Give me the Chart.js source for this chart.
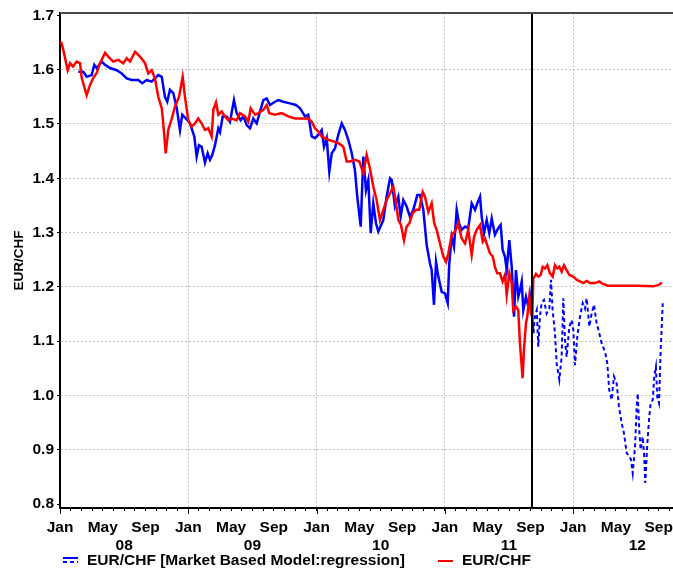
<!DOCTYPE html>
<html>
<head>
<meta charset="utf-8">
<script src="https://cdn.jsdelivr.net/npm/chart.js@4/dist/chart.umd.min.js"></script>
<style>
  html, body { margin: 0; padding: 0; background: #fff; }
  canvas { display: block; }
</style>
</head>
<body>
<canvas id="chart" width="673" height="571"></canvas>
<script>
const FONT = "'Liberation Sans', Arial, Helvetica, sans-serif";

// EUR/CHF spot rate: time in decimal years, rate in CHF per EUR
const spotTime = [
  2008.008,2008.026,2008.060,2008.078,2008.101,2008.130,2008.156,2008.169,2008.208,2008.234,
  2008.260,2008.286,2008.312,2008.351,2008.376,2008.415,2008.454,2008.493,2008.520,2008.546,
  2008.585,2008.624,2008.663,2008.688,2008.715,2008.740,2008.766,2008.793,2008.805,2008.824,
  2008.844,2008.871,2008.896,2008.928,2008.956,2008.974,2009.000,2009.026,2009.052,2009.078,
  2009.104,2009.130,2009.156,2009.182,2009.195,2009.216,2009.234,2009.260,2009.286,2009.312,
  2009.338,2009.377,2009.403,2009.442,2009.468,2009.486,2009.520,2009.546,2009.585,2009.611,
  2009.631,2009.676,2009.728,2009.779,2009.832,2009.884,2009.935,2009.962,2009.988,2010.013,
  2010.040,2010.065,2010.091,2010.130,2010.169,2010.208,2010.235,2010.260,2010.299,2010.333,
  2010.364,2010.390,2010.416,2010.442,2010.468,2010.494,2010.520,2010.546,2010.572,2010.598,
  2010.619,2010.637,2010.658,2010.681,2010.702,2010.723,2010.749,2010.775,2010.800,2010.827,
  2010.845,2010.871,2010.897,2010.917,2010.936,2010.962,2010.988,2011.009,2011.027,2011.053,
  2011.079,2011.104,2011.131,2011.157,2011.182,2011.209,2011.227,2011.248,2011.274,2011.295,
  2011.313,2011.330,2011.351,2011.373,2011.390,2011.408,2011.429,2011.450,2011.468,2011.482,
  2011.502,2011.521,2011.533,2011.554,2011.572,2011.585,2011.599,2011.606,2011.616,2011.632,
  2011.642,2011.658,2011.671,2011.681,2011.689,2011.710,2011.728,2011.747,2011.762,2011.780,
  2011.798,2011.819,2011.840,2011.858,2011.876,2011.892,2011.910,2011.928,2011.949,2011.970,
  2012.001,2012.027,2012.053,2012.079,2012.105,2012.131,2012.170,2012.203,2012.235,2012.274,
  2012.365,2012.495,2012.624,2012.671,2012.690
];
const spotRate = [
  1.652,1.636,1.599,1.612,1.606,1.615,1.612,1.585,1.553,1.572,
  1.585,1.594,1.612,1.631,1.624,1.615,1.618,1.612,1.621,1.615,
  1.633,1.624,1.612,1.593,1.599,1.584,1.550,1.529,1.501,1.446,
  1.489,1.510,1.532,1.550,1.587,1.550,1.507,1.495,1.501,1.510,
  1.501,1.489,1.492,1.477,1.526,1.540,1.517,1.523,1.514,1.507,
  1.510,1.507,1.520,1.514,1.504,1.529,1.517,1.520,1.526,1.535,
  1.520,1.517,1.520,1.514,1.510,1.510,1.510,1.504,1.492,1.486,
  1.477,1.474,1.471,1.468,1.465,1.458,1.431,1.431,1.434,1.431,
  1.409,1.443,1.418,1.385,1.360,1.323,1.342,1.360,1.372,1.385,
  1.354,1.323,1.314,1.286,1.311,1.317,1.336,1.342,1.342,1.375,
  1.366,1.338,1.354,1.317,1.305,1.280,1.256,1.246,1.262,1.296,
  1.302,1.317,1.289,1.280,1.305,1.259,1.292,1.305,1.314,1.283,
  1.289,1.277,1.262,1.256,1.237,1.225,1.225,1.210,1.222,1.185,
  1.225,1.207,1.157,1.164,1.157,1.096,1.053,1.032,1.084,1.133,
  1.145,1.182,1.151,1.145,1.215,1.224,1.219,1.222,1.237,1.234,
  1.240,1.225,1.219,1.240,1.234,1.237,1.228,1.240,1.231,1.222,
  1.219,1.213,1.210,1.207,1.211,1.207,1.207,1.210,1.205,1.202,
  1.202,1.202,1.201,1.204,1.208
];

// Market based regression model for EUR/CHF
const modelTime = [
  2008.143,2008.182,2008.208,2008.247,2008.267,2008.286,2008.325,2008.351,2008.390,2008.442,
  2008.481,2008.520,2008.559,2008.610,2008.641,2008.676,2008.715,2008.740,2008.766,2008.793,
  2008.818,2008.836,2008.857,2008.883,2008.910,2008.935,2008.953,2008.982,2009.013,2009.047,
  2009.065,2009.083,2009.104,2009.130,2009.151,2009.169,2009.187,2009.208,2009.234,2009.247,
  2009.268,2009.299,2009.325,2009.356,2009.377,2009.408,2009.429,2009.455,2009.481,2009.507,
  2009.533,2009.559,2009.585,2009.611,2009.637,2009.676,2009.701,2009.740,2009.793,2009.839,
  2009.871,2009.910,2009.935,2009.962,2009.988,2010.013,2010.040,2010.058,2010.079,2010.099,
  2010.118,2010.143,2010.169,2010.196,2010.221,2010.247,2010.274,2010.299,2010.317,2010.344,
  2010.364,2010.385,2010.403,2010.422,2010.442,2010.463,2010.481,2010.520,2010.546,2010.572,
  2010.585,2010.611,2010.637,2010.655,2010.676,2010.702,2010.728,2010.754,2010.785,2010.806,
  2010.832,2010.858,2010.884,2010.897,2010.915,2010.931,2010.949,2010.975,2011.001,2011.022,
  2011.034,2011.053,2011.071,2011.092,2011.110,2011.131,2011.157,2011.182,2011.209,2011.235,
  2011.253,2011.274,2011.287,2011.305,2011.326,2011.346,2011.365,2011.390,2011.416,2011.435,
  2011.450,2011.468,2011.482,2011.502,2011.521,2011.539,2011.554,2011.572,2011.585,2011.599,
  2011.611,2011.632,2011.650,2011.663,2011.677,2011.689,2011.702,2011.716,2011.728,2011.741,
  2011.754,2011.772,2011.793,2011.814,2011.827,2011.840,2011.858,2011.871,2011.892,2011.910,
  2011.923,2011.936,2011.949,2011.970,2011.988,2012.001,2012.014,2012.032,2012.053,2012.074,
  2012.092,2012.105,2012.126,2012.144,2012.162,2012.183,2012.203,2012.222,2012.248,2012.266,
  2012.281,2012.300,2012.318,2012.339,2012.357,2012.378,2012.396,2012.417,2012.437,2012.450,
  2012.464,2012.482,2012.495,2012.503,2012.515,2012.526,2012.542,2012.552,2012.562,2012.578,
  2012.593,2012.604,2012.620,2012.632,2012.645,2012.655,2012.669,2012.682,2012.698
];
const modelRate = [
  1.596,1.596,1.587,1.590,1.609,1.603,1.615,1.609,1.603,1.599,
  1.593,1.584,1.581,1.581,1.575,1.581,1.578,1.584,1.590,1.587,
  1.550,1.541,1.563,1.557,1.529,1.489,1.517,1.510,1.501,1.477,
  1.440,1.461,1.458,1.429,1.446,1.434,1.443,1.461,1.492,1.485,
  1.514,1.514,1.504,1.544,1.520,1.507,1.514,1.498,1.492,1.510,
  1.501,1.523,1.544,1.547,1.535,1.541,1.544,1.541,1.538,1.535,
  1.529,1.514,1.517,1.477,1.474,1.480,1.489,1.458,1.474,1.412,
  1.446,1.455,1.480,1.501,1.489,1.471,1.446,1.415,1.366,1.311,
  1.440,1.378,1.397,1.299,1.354,1.317,1.302,1.323,1.366,1.400,
  1.397,1.348,1.366,1.329,1.360,1.348,1.329,1.342,1.369,1.369,
  1.342,1.277,1.243,1.231,1.167,1.246,1.219,1.191,1.188,1.170,
  1.243,1.292,1.274,1.342,1.317,1.305,1.311,1.308,1.354,1.342,
  1.354,1.366,1.329,1.299,1.323,1.299,1.326,1.296,1.308,1.314,
  1.268,1.256,1.231,1.286,1.237,1.145,1.231,1.182,1.194,1.210,
  1.157,1.182,1.164,1.185,1.157,1.115,1.145,1.157,1.090,1.145,
  1.170,1.176,1.151,1.160,1.213,1.157,1.115,1.059,1.029,1.071,
  1.179,1.102,1.071,1.127,1.139,1.121,1.056,1.108,1.145,1.170,
  1.160,1.179,1.127,1.151,1.167,1.133,1.115,1.096,1.081,1.059,
  1.010,0.992,1.035,1.022,0.979,0.949,0.930,0.894,0.888,0.882,
  0.857,0.906,0.979,1.004,0.936,0.900,0.924,0.894,0.839,0.912,
  0.961,0.986,0.992,1.035,1.053,0.998,0.986,1.084,1.170
];

// Axis ticks and labels
const yTickValues = [0.8, 0.9, 1.0, 1.1, 1.2, 1.3, 1.4, 1.5, 1.6, 1.7];
const monthNames = ['Jan','Feb','Mar','Apr','May','Jun','Jul','Aug','Sep','Oct','Nov','Dec'];
const labelledMonths = ['Jan', 'May', 'Sep'];
const yearLabels = ['08', '09', '10', '11', '12'];
const firstYear = 2008;

// 6 Sep 2011: start of the out-of-sample period (dashed model line)
const regimeBreak = 2011.681;
const xMin = 2008.0, xMax = 2012.778;
const yMin = 0.7928, yMax = 1.7044;

const BLUE = '#0000ff';
const RED = '#ff0000';

const toPoints = (t, v) => t.map((x, i) => ({ x, y: v[i] }));

function monthIndex(value) {
  return Math.round((value - firstYear) * 12);
}

const chartFrame = {
  id: 'chartFrame',
  afterDatasetsDraw(chart) {
    const { ctx, chartArea: a, scales: { x } } = chart;
    const bx = Math.round(x.getPixelForValue(regimeBreak));
    ctx.save();
    ctx.strokeStyle = '#000';
    ctx.lineWidth = 2;
    ctx.beginPath();
    ctx.moveTo(bx, a.top);
    ctx.lineTo(bx, a.bottom);
    ctx.stroke();
    ctx.strokeStyle = '#4a4a4a';
    ctx.beginPath();
    ctx.moveTo(a.left, a.top);
    ctx.lineTo(chart.width, a.top);
    ctx.stroke();
    ctx.restore();
  },
  afterDraw(chart) {
    const { ctx, chartArea: a, scales: { x } } = chart;
    ctx.save();
    // longer tick marks at the start of each year
    ctx.strokeStyle = '#000';
    ctx.lineWidth = 1;
    x.ticks.forEach(t => {
      if (monthIndex(t.value) % 12 !== 0) return;
      const px = Math.round(x.getPixelForValue(t.value)) + 0.5;
      ctx.beginPath();
      ctx.moveTo(px, a.bottom);
      ctx.lineTo(px, a.bottom + 6);
      ctx.stroke();
    });

    // legend
    const [spotDs, modelDs] = chart.data.datasets;
    const y = 561;
    ctx.font = 'bold 15.5px ' + FONT;
    ctx.textBaseline = 'middle';
    ctx.textAlign = 'left';
    ctx.strokeStyle = modelDs.borderColor;
    ctx.lineWidth = 2;
    ctx.beginPath();
    ctx.moveTo(63, y - 3); ctx.lineTo(78, y - 3);
    ctx.stroke();
    ctx.setLineDash([4, 3]);
    ctx.beginPath();
    ctx.moveTo(63, y + 1); ctx.lineTo(78, y + 1);
    ctx.stroke();
    ctx.setLineDash([]);
    ctx.fillStyle = '#000';
    ctx.fillText(modelDs.label, 87, y);
    ctx.strokeStyle = spotDs.borderColor;
    ctx.lineWidth = 2;
    ctx.beginPath();
    ctx.moveTo(438, y); ctx.lineTo(453, y);
    ctx.stroke();
    ctx.fillText(spotDs.label, 462, y);
    ctx.restore();
  }
};

new Chart(document.getElementById('chart'), {
  type: 'line',
  data: {
    datasets: [
      {
        label: 'EUR/CHF',
        data: toPoints(spotTime, spotRate),
        borderColor: RED,
        borderWidth: 2.5,
        pointRadius: 0,
        tension: 0,
        order: 0
      },
      {
        label: 'EUR/CHF [Market Based Model:regression]',
        data: toPoints(modelTime, modelRate),
        borderColor: BLUE,
        borderWidth: 2.5,
        pointRadius: 0,
        tension: 0,
        order: 1,
        segment: {
          borderDash: c => (c.p0.parsed.x >= regimeBreak ? [4, 3] : undefined),
          borderWidth: c => (c.p0.parsed.x >= regimeBreak ? 2 : undefined)
        }
      }
    ]
  },
  options: {
    responsive: false,
    animation: false,
    devicePixelRatio: 1,
    layout: { padding: { top: 13, right: 0, bottom: 0, left: 0 } },
    plugins: {
      legend: { display: false },
      tooltip: { enabled: false }
    },
    scales: {
      x: {
        type: 'linear',
        min: xMin,
        max: xMax,
        bounds: 'data',
        afterBuildTicks(scale) {
          const ticks = [];
          for (let k = 0; firstYear + k / 12 <= xMax + 1e-9; k++) {
            ticks.push({ value: firstYear + k / 12 });
          }
          scale.ticks = ticks;
        },
        afterFit(scale) {
          scale.height = 63;
          scale.paddingLeft = 0;
          scale.paddingRight = 0;
        },
        ticks: {
          autoSkip: false,
          maxRotation: 0,
          minRotation: 0,
          padding: 7,
          color: '#000',
          font: { family: FONT, size: 15.5, weight: 'bold' },
          callback(value) {
            const k = monthIndex(value);
            const m = ((k % 12) + 12) % 12;
            const name = monthNames[m];
            if (labelledMonths.includes(name)) return name;
            if (m === 6) return ['', yearLabels[Math.floor(k / 12)]];
            return '';
          }
        },
        grid: {
          color: c => {
            const k = c.tick ? monthIndex(c.tick.value) : -1;
            return (k > 0 && k % 12 === 0) ? '#c4c4c4' : 'rgba(0,0,0,0)';
          },
          lineWidth: 1,
          tickColor: '#000',
          tickLength: 3,
          tickWidth: 1,
          tickBorderDash: []
        },
        border: { display: true, color: '#000', width: 2, dash: [2, 2] }
      },
      y: {
        type: 'linear',
        min: yMin,
        max: yMax,
        bounds: 'data',
        afterBuildTicks(scale) {
          scale.ticks = yTickValues.map(v => ({ value: v }));
        },
        afterFit(scale) {
          scale.width = 60;
        },
        ticks: {
          padding: 3,
          color: '#000',
          font: { family: FONT, size: 15.5, weight: 'bold' },
          callback: v => Number(v).toFixed(1)
        },
        grid: {
          color: c => {
            const v = c.tick ? c.tick.value : 0;
            return (v > 0.85 && v < 1.65) ? '#c4c4c4' : 'rgba(0,0,0,0)';
          },
          lineWidth: 1,
          tickColor: '#000',
          tickLength: 3,
          tickWidth: 1,
          tickBorderDash: []
        },
        border: { display: true, color: '#000', width: 2, dash: [2, 2] },
        title: {
          display: true,
          text: 'EUR/CHF',
          color: '#000',
          font: { family: FONT, size: 13.5, weight: 'bold' },
          padding: { top: 11, bottom: 0 }
        }
      }
    }
  },
  plugins: [chartFrame]
});
</script>
</body>
</html>
